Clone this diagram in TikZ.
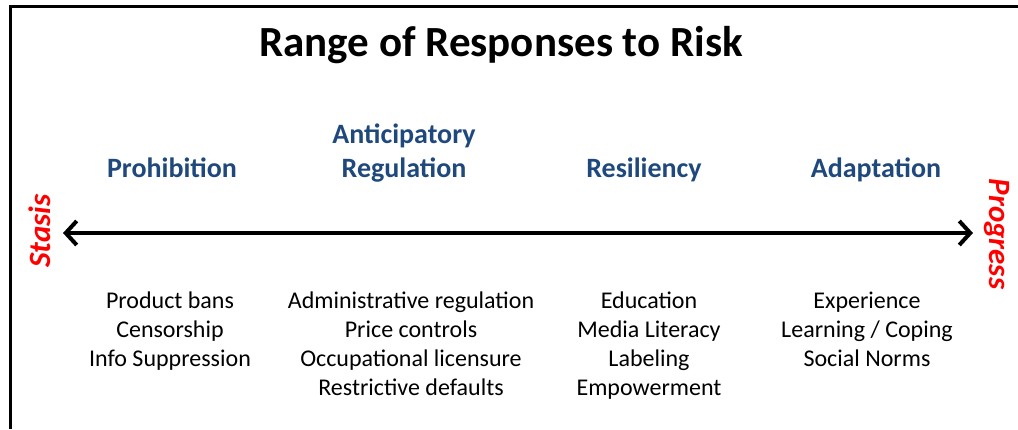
\documentclass[tikz,border=0pt]{standalone}
\usepackage{fontspec}
\setmainfont{Carlito}
\usetikzlibrary{arrows.meta}
\definecolor{headblue}{RGB}{31,73,125}
\tikzset{
  title/.style={inner sep=0pt, font=\fontsize{43}{52}\selectfont\bfseries},
  heading/.style={inner sep=0pt, align=center, text=headblue,
    font=\fontsize{28}{33.5}\selectfont\bfseries},
  items/.style={inner sep=0pt, align=center,
    font=\fontsize{24}{29}\selectfont},
  pole/.style={inner sep=0pt, text=red,
    font=\fontsize{31}{36}\selectfont\bfseries\itshape},
  frame/.style={line width=3pt},
  axis/.style={line width=4pt,
    {Straight Barb[length=11pt,width=24pt]}-{Straight Barb[length=11pt,width=24pt]}}
}
\begin{document}
\begin{tikzpicture}[x=1pt,y=-1pt]
  \useasboundingbox (0,0) rectangle (1018,429);
  % frame along the top and left edges
  \draw[frame] (10.5,429) -- (10.5,6) -- (1018,6);

  \node[title] (t) at (501,45) {Range of Responses to Risk};

  % response categories
  \node[heading] (h1) at (172,168) {Prohibition};
  \node[heading] (h2) at (404,153) {Anticipatory\\Regulation};
  \node[heading] (h3) at (644,170) {Resiliency};
  \node[heading] (h4) at (876,170) {Adaptation};

  % the stasis-progress axis
  \coordinate (aL) at (63,233);
  \coordinate (aR) at (973,233);
  \draw[axis] (aL) -- (aR);
  \node[pole, rotate=90] (s) at (40,231) {Stasis};
  \node[pole, rotate=-90] (p) at (997,234) {Progress};

  % example measures for each category
  \node[items] (l1) at (170,331) {Product bans\\Censorship\\Info Suppression};
  \node[items] (l2) at (411,344) {Administrative regulation\\Price controls\\Occupational licensure\\Restrictive defaults};
  \node[items] (l3) at (649,346) {Education\\Media Literacy\\Labeling\\Empowerment};
  \node[items] (l4) at (867,329) {Experience\\Learning / Coping\\Social Norms};
\end{tikzpicture}
\end{document}
